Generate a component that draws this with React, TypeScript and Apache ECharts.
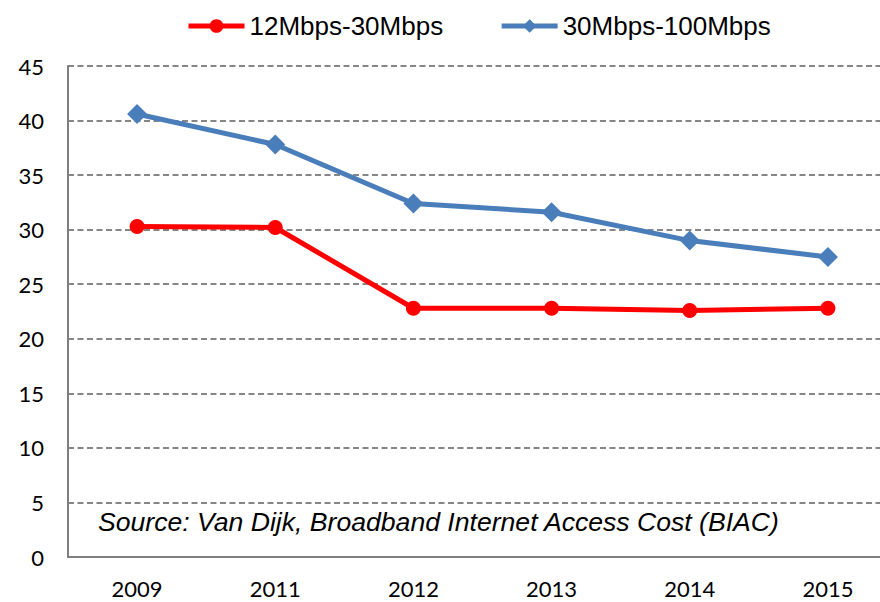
import React, { useEffect, useRef } from "react";
import * as echarts from "echarts";

const categories = ["2009", "2011", "2012", "2013", "2014", "2015"];
const series12to30 = [30.3, 30.2, 22.8, 22.8, 22.6, 22.8];
const series30to100 = [40.6, 37.8, 32.4, 31.6, 29.0, 27.5];
const seriesNames = ["12Mbps-30Mbps", "30Mbps-100Mbps"];
const yTicks = { min: 0, max: 45, interval: 5 };
const RED = "#ff0000";
const BLUE = "#4a7ebb";

export default function App() {
  const ref = useRef<HTMLDivElement>(null);
  useEffect(() => {
    const chart = echarts.init(ref.current!, null, { renderer: "svg" });
    chart.setOption({
      animation: false,
      backgroundColor: "#ffffff",
      legend: {
        top: 8,
        left: 181,
        itemWidth: 56,
        itemHeight: 17,
        itemGap: 56,
        lineStyle: { width: 5 },
        textStyle: {
          fontFamily: "'Liberation Sans', Arial",
          fontSize: 26,
          color: "#000",
        },
        data: seriesNames,
      },
      grid: { left: 68, top: 66, right: 0, bottom: 45 },
      xAxis: {
        type: "category",
        data: categories,
        boundaryGap: true,
        axisLine: { lineStyle: { color: "#7f7f7f", width: 2 } },
        axisTick: { show: false },
        axisLabel: {
          fontFamily: "Lato, 'Open Sans', sans-serif",
          fontSize: 22,
          color: "#000",
          margin: 20,
        },
      },
      yAxis: {
        type: "value",
        min: yTicks.min,
        max: yTicks.max,
        interval: yTicks.interval,
        axisLine: { show: true, lineStyle: { color: "#7f7f7f", width: 2 } },
        axisTick: { show: false },
        axisLabel: {
          fontFamily: "Lato, 'Open Sans', sans-serif",
          fontSize: 22,
          color: "#000",
          margin: 24,
        },
        splitLine: { lineStyle: { color: "#5f5f5f", type: [6, 3.5], width: 1.6 } },
      },
      graphic: [
        {
          type: "text",
          left: 98,
          top: 508,
          style: {
            text: "Source: Van Dijk, Broadband Internet Access Cost (BIAC)",
            fontFamily: "'Liberation Sans', Arial",
            fontStyle: "italic",
            fontSize: 26.6,
            fill: "#000",
          },
        },
      ],
      series: [
        {
          name: seriesNames[0],
          type: "line",
          data: series12to30,
          symbol: "circle",
          symbolSize: 15,
          lineStyle: { color: RED, width: 5 },
          itemStyle: { color: RED },
        },
        {
          name: seriesNames[1],
          type: "line",
          data: series30to100,
          symbol: "diamond",
          symbolSize: 20,
          lineStyle: { color: BLUE, width: 5 },
          itemStyle: { color: BLUE },
        },
      ],
    });
    return () => chart.dispose();
  }, []);
  return (
    <div style={{ width: 880, height: 602, overflow: "hidden", position: "absolute", left: 0, top: 0 }}>
      <div ref={ref} style={{ width: 897, height: 602 }} />
    </div>
  );
}
